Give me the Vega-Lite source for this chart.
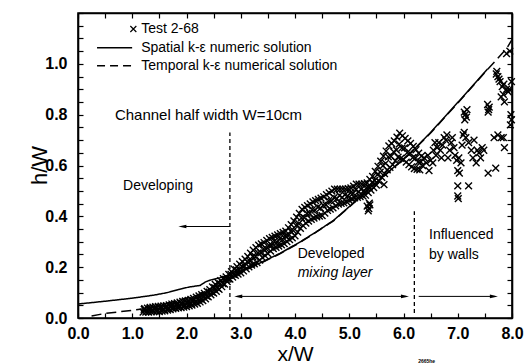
{
"$schema": "https://vega.github.io/schema/vega-lite/v6.json",
"width": 434,
"height": 305,
"autosize": {"type": "none"},
"padding": {"left": 78, "top": 13, "right": 17, "bottom": 46},
"background": "white",
"config": {
  "view": {"stroke": "black", "strokeWidth": 1.6},
  "font": "Liberation Sans",
  "axis": {"grid": false, "domain": true, "domainColor": "black", "domainWidth": 1.6, "ticks": true, "tickColor": "black", "tickWidth": 1.2, "tickSize": -5, "labelOverlap": false, "labelFlush": false, "labelColor": "black", "titleColor": "black"}
},
"datasets": {
  "test": [
{"x":1.20,"h":0.023},{"x":1.22,"h":0.034},{"x":1.23,"h":0.037},
{"x":1.25,"h":0.023},{"x":1.27,"h":0.027},{"x":1.28,"h":0.039},
{"x":1.30,"h":0.023},{"x":1.32,"h":0.036},{"x":1.33,"h":0.042},
{"x":1.35,"h":0.024},{"x":1.37,"h":0.030},{"x":1.38,"h":0.043},
{"x":1.40,"h":0.025},{"x":1.42,"h":0.039},{"x":1.43,"h":0.045},
{"x":1.45,"h":0.025},{"x":1.47,"h":0.032},{"x":1.48,"h":0.046},
{"x":1.50,"h":0.025},{"x":1.52,"h":0.040},{"x":1.53,"h":0.047},
{"x":1.55,"h":0.027},{"x":1.57,"h":0.034},{"x":1.58,"h":0.048},
{"x":1.60,"h":0.028},{"x":1.62,"h":0.043},{"x":1.63,"h":0.049},
{"x":1.65,"h":0.031},{"x":1.67,"h":0.037},{"x":1.68,"h":0.052},
{"x":1.70,"h":0.033},{"x":1.72,"h":0.048},{"x":1.73,"h":0.055},
{"x":1.75,"h":0.036},{"x":1.77,"h":0.042},{"x":1.78,"h":0.057},
{"x":1.80,"h":0.038},{"x":1.82,"h":0.053},{"x":1.83,"h":0.059},
{"x":1.85,"h":0.040},{"x":1.87,"h":0.047},{"x":1.88,"h":0.062},
{"x":1.90,"h":0.041},{"x":1.92,"h":0.057},{"x":1.93,"h":0.065},
{"x":1.95,"h":0.043},{"x":1.97,"h":0.051},{"x":1.98,"h":0.067},
{"x":2.00,"h":0.045},{"x":2.02,"h":0.061},{"x":2.03,"h":0.069},
{"x":2.05,"h":0.048},{"x":2.07,"h":0.056},{"x":2.08,"h":0.073},
{"x":2.10,"h":0.051},{"x":2.12,"h":0.068},{"x":2.13,"h":0.077},
{"x":2.15,"h":0.055},{"x":2.17,"h":0.064},{"x":2.18,"h":0.082},
{"x":2.20,"h":0.058},{"x":2.22,"h":0.076},{"x":2.23,"h":0.087},
{"x":2.25,"h":0.063},{"x":2.27,"h":0.074},{"x":2.28,"h":0.092},
{"x":2.30,"h":0.068},{"x":2.32,"h":0.087},{"x":2.33,"h":0.097},
{"x":2.35,"h":0.075},{"x":2.37,"h":0.086},{"x":2.38,"h":0.105},
{"x":2.40,"h":0.083},{"x":2.42,"h":0.102},{"x":2.43,"h":0.112},
{"x":2.45,"h":0.091},{"x":2.47,"h":0.102},{"x":2.48,"h":0.122},
{"x":2.50,"h":0.098},{"x":2.52,"h":0.119},{"x":2.53,"h":0.132},
{"x":2.55,"h":0.105},{"x":2.57,"h":0.118},{"x":2.58,"h":0.139},
{"x":2.60,"h":0.113},{"x":2.62,"h":0.134},{"x":2.63,"h":0.147},
{"x":2.65,"h":0.123},{"x":2.67,"h":0.135},{"x":2.68,"h":0.155},
{"x":2.70,"h":0.133},{"x":2.72,"h":0.152},{"x":2.73,"h":0.162},
{"x":2.75,"h":0.143},{"x":2.77,"h":0.154},{"x":2.78,"h":0.172},
{"x":2.80,"h":0.153},{"x":2.82,"h":0.172},{"x":2.83,"h":0.182},
{"x":2.85,"h":0.161},{"x":2.87,"h":0.172},{"x":2.88,"h":0.192},
{"x":2.90,"h":0.168},{"x":2.92,"h":0.189},{"x":2.93,"h":0.202},
{"x":2.95,"h":0.173},{"x":2.97,"h":0.189},{"x":2.98,"h":0.212},
{"x":3.00,"h":0.178},{"x":3.02,"h":0.204},{"x":3.03,"h":0.222},
{"x":3.05,"h":0.185},{"x":3.07,"h":0.204},{"x":3.08,"h":0.232},
{"x":3.10,"h":0.193},{"x":3.12,"h":0.222},{"x":3.13,"h":0.242},
{"x":3.15,"h":0.201},{"x":3.17,"h":0.224},{"x":3.18,"h":0.255},
{"x":3.20,"h":0.208},{"x":3.22,"h":0.242},{"x":3.23,"h":0.267},
{"x":3.25,"h":0.213},{"x":3.27,"h":0.241},{"x":3.28,"h":0.277},
{"x":3.30,"h":0.218},{"x":3.32,"h":0.256},{"x":3.33,"h":0.287},
{"x":3.35,"h":0.228},{"x":3.37,"h":0.256},{"x":3.38,"h":0.292},
{"x":3.40,"h":0.238},{"x":3.42,"h":0.272},{"x":3.43,"h":0.297},
{"x":3.45,"h":0.245},{"x":3.47,"h":0.271},{"x":3.48,"h":0.305},
{"x":3.50,"h":0.253},{"x":3.52,"h":0.286},{"x":3.53,"h":0.312},
{"x":3.55,"h":0.263},{"x":3.57,"h":0.286},{"x":3.58,"h":0.317},
{"x":3.60,"h":0.273},{"x":3.62,"h":0.302},{"x":3.63,"h":0.322},
{"x":3.65,"h":0.278},{"x":3.67,"h":0.298},{"x":3.68,"h":0.327},
{"x":3.70,"h":0.283},{"x":3.72,"h":0.312},{"x":3.73,"h":0.332},
{"x":3.75,"h":0.288},{"x":3.77,"h":0.308},{"x":3.78,"h":0.337},
{"x":3.80,"h":0.293},{"x":3.82,"h":0.322},{"x":3.83,"h":0.342},
{"x":3.85,"h":0.301},{"x":3.87,"h":0.324},{"x":3.88,"h":0.355},
{"x":3.90,"h":0.308},{"x":3.92,"h":0.342},{"x":3.93,"h":0.367},
{"x":3.95,"h":0.315},{"x":3.97,"h":0.344},{"x":3.98,"h":0.382},
{"x":4.00,"h":0.323},{"x":4.02,"h":0.364},{"x":4.03,"h":0.397},
{"x":4.05,"h":0.338},{"x":4.07,"h":0.371},{"x":4.08,"h":0.412},
{"x":4.10,"h":0.353},{"x":4.12,"h":0.394},{"x":4.13,"h":0.427},
{"x":4.15,"h":0.363},{"x":4.17,"h":0.395},{"x":4.18,"h":0.435},
{"x":4.20,"h":0.373},{"x":4.22,"h":0.412},{"x":4.23,"h":0.442},
{"x":4.25,"h":0.381},{"x":4.27,"h":0.411},{"x":4.28,"h":0.449},
{"x":4.30,"h":0.388},{"x":4.32,"h":0.426},{"x":4.33,"h":0.457},
{"x":4.35,"h":0.393},{"x":4.37,"h":0.424},{"x":4.38,"h":0.462},
{"x":4.40,"h":0.398},{"x":4.42,"h":0.436},{"x":4.43,"h":0.467},
{"x":4.45,"h":0.401},{"x":4.47,"h":0.432},{"x":4.48,"h":0.472},
{"x":4.50,"h":0.403},{"x":4.52,"h":0.444},{"x":4.53,"h":0.477},
{"x":4.55,"h":0.413},{"x":4.57,"h":0.445},{"x":4.58,"h":0.485},
{"x":4.60,"h":0.423},{"x":4.62,"h":0.462},{"x":4.63,"h":0.492},
{"x":4.65,"h":0.428},{"x":4.67,"h":0.460},{"x":4.68,"h":0.499},
{"x":4.70,"h":0.433},{"x":4.72,"h":0.474},{"x":4.73,"h":0.507},
{"x":4.75,"h":0.441},{"x":4.77,"h":0.470},{"x":4.78,"h":0.507},
{"x":4.80,"h":0.448},{"x":4.82,"h":0.482},{"x":4.83,"h":0.507},
{"x":4.85,"h":0.451},{"x":4.87,"h":0.475},{"x":4.88,"h":0.507},
{"x":4.90,"h":0.453},{"x":4.92,"h":0.484},{"x":4.93,"h":0.507},
{"x":4.95,"h":0.458},{"x":4.97,"h":0.480},{"x":4.98,"h":0.509},
{"x":5.00,"h":0.463},{"x":5.02,"h":0.492},{"x":5.03,"h":0.512},
{"x":5.05,"h":0.468},{"x":5.07,"h":0.490},{"x":5.08,"h":0.519},
{"x":5.10,"h":0.473},{"x":5.12,"h":0.504},{"x":5.13,"h":0.527},
{"x":5.15,"h":0.475},{"x":5.17,"h":0.497},{"x":5.18,"h":0.527},
{"x":5.20,"h":0.478},{"x":5.22,"h":0.506},{"x":5.23,"h":0.527},
{"x":5.25,"h":0.481},{"x":5.27,"h":0.501},{"x":5.28,"h":0.529},
{"x":5.30,"h":0.483},{"x":5.32,"h":0.512},{"x":5.33,"h":0.532},
{"x":5.35,"h":0.493},{"x":5.37,"h":0.515},{"x":5.38,"h":0.545},
{"x":5.40,"h":0.503},{"x":5.42,"h":0.534},{"x":5.43,"h":0.557},
{"x":5.45,"h":0.513},{"x":5.47,"h":0.541},{"x":5.48,"h":0.577},
{"x":5.50,"h":0.523},{"x":5.52,"h":0.564},{"x":5.53,"h":0.597},
{"x":5.55,"h":0.538},{"x":5.57,"h":0.574},{"x":5.58,"h":0.617},
{"x":5.60,"h":0.553},{"x":5.62,"h":0.599},{"x":5.63,"h":0.637},
{"x":5.65,"h":0.568},{"x":5.67,"h":0.608},{"x":5.68,"h":0.657},
{"x":5.70,"h":0.583},{"x":5.72,"h":0.634},{"x":5.73,"h":0.677},
{"x":5.75,"h":0.593},{"x":5.77,"h":0.636},{"x":5.78,"h":0.687},
{"x":5.80,"h":0.603},{"x":5.82,"h":0.654},{"x":5.83,"h":0.697},
{"x":5.85,"h":0.618},{"x":5.87,"h":0.661},{"x":5.88,"h":0.712},
{"x":5.90,"h":0.633},{"x":5.92,"h":0.684},{"x":5.93,"h":0.727},
{"x":5.95,"h":0.628},{"x":5.97,"h":0.668},{"x":5.98,"h":0.717},
{"x":6.00,"h":0.623},{"x":6.02,"h":0.669},{"x":6.03,"h":0.707},
{"x":6.05,"h":0.613},{"x":6.07,"h":0.651},{"x":6.08,"h":0.697},
{"x":6.10,"h":0.603},{"x":6.12,"h":0.649},{"x":6.13,"h":0.687},
{"x":6.15,"h":0.595},{"x":6.17,"h":0.631},{"x":6.18,"h":0.675},
{"x":6.20,"h":0.588},{"x":6.22,"h":0.629},{"x":6.23,"h":0.662},
{"x":6.25,"h":0.585},{"x":6.27,"h":0.613},{"x":6.28,"h":0.649},
{"x":6.30,"h":0.583},{"x":6.32,"h":0.614},{"x":6.33,"h":0.637},
{"x":5.33,"h":0.440},{"x":5.36,"h":0.430},{"x":5.38,"h":0.445},{"x":5.35,"h":0.422},{"x":5.37,"h":0.452},
{"x":5.64,"h":0.525},
{"x":6.35,"h":0.60},{"x":6.38,"h":0.63},{"x":6.42,"h":0.61},{"x":6.45,"h":0.64},{"x":6.47,"h":0.58},
{"x":6.50,"h":0.62},{"x":6.54,"h":0.61},{"x":6.55,"h":0.66},{"x":6.58,"h":0.69},{"x":6.60,"h":0.64},
{"x":6.62,"h":0.67},{"x":6.65,"h":0.69},{"x":6.68,"h":0.66},{"x":6.70,"h":0.63},{"x":6.72,"h":0.68},
{"x":6.75,"h":0.71},{"x":6.78,"h":0.70},{"x":6.80,"h":0.72},{"x":6.82,"h":0.63},{"x":6.85,"h":0.66},
{"x":6.88,"h":0.69},{"x":6.90,"h":0.71},{"x":6.93,"h":0.67},{"x":6.95,"h":0.64},{"x":6.98,"h":0.62},
{"x":7.00,"h":0.58},{"x":7.02,"h":0.63},{"x":7.03,"h":0.57},{"x":7.06,"h":0.61},{"x":7.00,"h":0.52},
{"x":7.20,"h":0.52},{"x":7.00,"h":0.48},{"x":7.01,"h":0.47},{"x":7.08,"h":0.68},{"x":7.10,"h":0.72},
{"x":7.12,"h":0.73},{"x":7.15,"h":0.71},{"x":7.14,"h":0.80},{"x":7.12,"h":0.81},{"x":7.16,"h":0.79},
{"x":7.13,"h":0.78},{"x":7.17,"h":0.82},{"x":7.20,"h":0.69},{"x":7.25,"h":0.66},{"x":7.28,"h":0.63},
{"x":7.30,"h":0.70},{"x":7.34,"h":0.61},{"x":7.36,"h":0.66},{"x":7.39,"h":0.65},{"x":7.42,"h":0.63},
{"x":7.45,"h":0.67},{"x":7.48,"h":0.66},{"x":7.56,"h":0.57},{"x":7.70,"h":0.59},{"x":7.55,"h":0.84},
{"x":7.57,"h":0.82},{"x":7.58,"h":0.83},{"x":7.56,"h":0.81},{"x":7.67,"h":0.71},{"x":7.74,"h":0.72},
{"x":7.80,"h":0.71},{"x":7.84,"h":0.71},{"x":7.86,"h":0.67},{"x":7.71,"h":0.96},{"x":7.74,"h":0.95},
{"x":7.76,"h":0.94},{"x":7.72,"h":0.97},{"x":7.78,"h":0.93},{"x":7.80,"h":0.87},{"x":7.84,"h":0.88},
{"x":7.86,"h":0.85},{"x":7.90,"h":0.90},{"x":7.93,"h":0.89},{"x":7.95,"h":0.90},{"x":7.99,"h":0.93},
{"x":7.90,"h":1.04},{"x":7.96,"h":1.05},{"x":7.98,"h":0.80},{"x":7.99,"h":0.78},{"x":7.97,"h":0.76},
{"x":7.85,"h":0.92},{"x":7.82,"h":0.91}
  ],
  "curves": [
{"x":0.00,"h":0.055,"series":"Spatial"},{"x":0.50,"h":0.066,"series":"Spatial"},{"x":1.00,"h":0.078,"series":"Spatial"},
{"x":1.40,"h":0.090,"series":"Spatial"},{"x":1.65,"h":0.100,"series":"Spatial"},{"x":1.85,"h":0.112,"series":"Spatial"},
{"x":2.05,"h":0.122,"series":"Spatial"},{"x":2.25,"h":0.128,"series":"Spatial"},{"x":2.35,"h":0.142,"series":"Spatial"},
{"x":2.45,"h":0.150,"series":"Spatial"},{"x":2.60,"h":0.157,"series":"Spatial"},{"x":2.80,"h":0.170,"series":"Spatial"},
{"x":3.00,"h":0.185,"series":"Spatial"},{"x":3.36,"h":0.217,"series":"Spatial"},{"x":3.73,"h":0.255,"series":"Spatial"},
{"x":4.10,"h":0.300,"series":"Spatial"},{"x":4.40,"h":0.340,"series":"Spatial"},{"x":4.71,"h":0.384,"series":"Spatial"},
{"x":5.00,"h":0.438,"series":"Spatial"},{"x":5.30,"h":0.496,"series":"Spatial"},{"x":5.64,"h":0.560,"series":"Spatial"},
{"x":6.14,"h":0.652,"series":"Spatial"},{"x":6.50,"h":0.730,"series":"Spatial"},{"x":7.03,"h":0.855,"series":"Spatial"},
{"x":7.55,"h":0.980,"series":"Spatial"},
{"x":0.25,"h":0.008,"series":"Temporal"},{"x":0.50,"h":0.018,"series":"Temporal"},{"x":1.00,"h":0.030,"series":"Temporal"},
{"x":1.35,"h":0.040,"series":"Temporal"},{"x":1.80,"h":0.068,"series":"Temporal"},{"x":2.20,"h":0.090,"series":"Temporal"},
{"x":2.50,"h":0.122,"series":"Temporal"},{"x":2.80,"h":0.160,"series":"Temporal"},{"x":3.00,"h":0.180,"series":"Temporal"},
{"x":3.36,"h":0.215,"series":"Temporal"},{"x":3.73,"h":0.253,"series":"Temporal"},{"x":4.10,"h":0.298,"series":"Temporal"},
{"x":4.71,"h":0.382,"series":"Temporal"},{"x":5.64,"h":0.558,"series":"Temporal"},{"x":6.14,"h":0.650,"series":"Temporal"},
{"x":6.50,"h":0.728,"series":"Temporal"},{"x":7.03,"h":0.853,"series":"Temporal"},{"x":7.55,"h":0.978,"series":"Temporal"},
{"x":7.90,"h":1.060,"series":"Temporal"},{"x":8.00,"h":1.095,"series":"Temporal"}
  ],
  "one": [{}]
},
"resolve": {"axis": {"x": "independent", "y": "independent"}},
"layer": [
  {
    "data": {"name": "test"},
    "mark": {"type": "point", "shape": "M-1,-1L1,1M-1,1L1,-1", "filled": false, "stroke": "black", "strokeWidth": 1.4, "size": 46, "opacity": 1},
    "encoding": {
      "x": {"field": "x", "type": "quantitative", "scale": {"domain": [0, 8], "nice": false, "zero": false},
        "axis": {"orient": "bottom", "values": [0,0.5,1,1.5,2,2.5,3,3.5,4,4.5,5,5.5,6,6.5,7,7.5,8],
          "domain": true, "domainColor": "black", "domainWidth": 1.6,
          "ticks": true, "tickColor": "black", "tickWidth": 1.2, "tickSize": -5,
          "labelExpr": "round(datum.value*10) % 10 == 0 ? format(datum.value, '.1f') : ''",
          "labelFontSize": 16, "labelFontWeight": "bold", "labelPadding": 12,
          "title": "x/W", "titleFontSize": 21, "titleFontWeight": "normal", "titleY": 25}},
      "y": {"field": "h", "type": "quantitative", "scale": {"domain": [0, 1.2], "nice": false, "zero": false},
        "axis": {"orient": "left", "values": [0,0.05,0.1,0.15,0.2,0.25,0.3,0.35,0.4,0.45,0.5,0.55,0.6,0.65,0.7,0.75,0.8,0.85,0.9,0.95,1,1.05,1.1,1.15,1.2],
          "domain": true, "domainColor": "black", "domainWidth": 1.6,
          "ticks": true, "tickColor": "black", "tickWidth": 1.2, "tickSize": -5,
          "labelExpr": "(round(datum.value*100) % 20 == 0 && datum.value < 1.1) ? format(datum.value, '.1f') : ''",
          "labelFontSize": 16, "labelFontWeight": "bold", "labelPadding": 16,
          "title": "h/W", "titleFontSize": 22, "titleFontWeight": "normal", "titleX": -27, "titleY": 152}}
    }
  },
  {
    "data": {"name": "curves"},
    "mark": {"type": "line", "stroke": "black", "strokeWidth": 1.5},
    "encoding": {
      "x": {"field": "x", "type": "quantitative",
        "axis": {"orient": "top", "values": [0,0.5,1,1.5,2,2.5,3,3.5,4,4.5,5,5.5,6,6.5,7,7.5,8], "labels": false, "title": null,
          "domain": true, "domainColor": "black", "domainWidth": 1.6,
          "ticks": true, "tickColor": "black", "tickWidth": 1.2, "tickSize": -5}},
      "y": {"field": "h", "type": "quantitative",
        "axis": {"orient": "right", "values": [0,0.05,0.1,0.15,0.2,0.25,0.3,0.35,0.4,0.45,0.5,0.55,0.6,0.65,0.7,0.75,0.8,0.85,0.9,0.95,1,1.05,1.1,1.15,1.2], "labels": false, "title": null,
          "domain": true, "domainColor": "black", "domainWidth": 1.6,
          "ticks": true, "tickColor": "black", "tickWidth": 1.2, "tickSize": -5}},
      "strokeDash": {"field": "series", "type": "nominal", "scale": {"domain": ["Spatial", "Temporal"], "range": [[1, 0], [10, 5]]}, "legend": null}
    }
  },
  {
    "data": {"name": "one"},
    "mark": {"type": "rule", "stroke": "black", "strokeWidth": 1.3, "strokeDash": [4, 3]},
    "encoding": {"x": {"datum": 2.8, "type": "quantitative", "axis": null}, "y": {"datum": 0, "type": "quantitative", "axis": null}, "y2": {"datum": 0.73}}
  },
  {
    "data": {"name": "one"},
    "mark": {"type": "rule", "stroke": "black", "strokeWidth": 1.3, "strokeDash": [4, 3]},
    "encoding": {"x": {"datum": 6.2, "type": "quantitative", "axis": null}, "y": {"datum": 0.02, "type": "quantitative", "axis": null}, "y2": {"datum": 0.42}}
  },
  {
    "data": {"name": "one"},
    "mark": {"type": "rule", "stroke": "black", "strokeWidth": 1},
    "encoding": {"x": {"datum": 1.9, "type": "quantitative", "axis": null}, "x2": {"datum": 2.8}, "y": {"datum": 0.36, "type": "quantitative", "axis": null}}
  },
  {
    "data": {"name": "one"},
    "mark": {"type": "rule", "stroke": "black", "strokeWidth": 1},
    "encoding": {"x": {"datum": 2.93, "type": "quantitative", "axis": null}, "x2": {"datum": 6.05}, "y": {"datum": 0.085, "type": "quantitative", "axis": null}}
  },
  {
    "data": {"name": "one"},
    "mark": {"type": "rule", "stroke": "black", "strokeWidth": 1},
    "encoding": {"x": {"datum": 6.28, "type": "quantitative", "axis": null}, "x2": {"datum": 7.69}, "y": {"datum": 0.085, "type": "quantitative", "axis": null}}
  },
  {
    "data": {"name": "one"},
    "mark": {"type": "point", "shape": "M-1,0L1,-0.45L1,0.45Z", "filled": true, "fill": "black", "strokeWidth": 0, "size": 64, "opacity": 1},
    "encoding": {"x": {"datum": 1.924, "type": "quantitative", "axis": null}, "y": {"datum": 0.36, "type": "quantitative", "axis": null}}
  },
  {
    "data": {"name": "one"},
    "mark": {"type": "point", "shape": "M-1,0L1,-0.45L1,0.45Z", "filled": true, "fill": "black", "strokeWidth": 0, "size": 64, "opacity": 1},
    "encoding": {"x": {"datum": 2.954, "type": "quantitative", "axis": null}, "y": {"datum": 0.085, "type": "quantitative", "axis": null}}
  },
  {
    "data": {"name": "one"},
    "mark": {"type": "point", "shape": "M1,0L-1,-0.45L-1,0.45Z", "filled": true, "fill": "black", "strokeWidth": 0, "size": 64, "opacity": 1},
    "encoding": {"x": {"datum": 6.026, "type": "quantitative", "axis": null}, "y": {"datum": 0.085, "type": "quantitative", "axis": null}}
  },
  {
    "data": {"name": "one"},
    "mark": {"type": "point", "shape": "M1,0L-1,-0.45L-1,0.45Z", "filled": true, "fill": "black", "strokeWidth": 0, "size": 64, "opacity": 1},
    "encoding": {"x": {"datum": 7.666, "type": "quantitative", "axis": null}, "y": {"datum": 0.085, "type": "quantitative", "axis": null}}
  },
  {
    "data": {"name": "one"},
    "mark": {"type": "text", "text": "Channel half width W=10cm", "align": "left", "baseline": "middle", "fontSize": 15, "color": "black"},
    "encoding": {"x": {"datum": 0.68, "type": "quantitative", "axis": null}, "y": {"datum": 0.80, "type": "quantitative", "axis": null}}
  },
  {
    "data": {"name": "one"},
    "mark": {"type": "text", "text": "Developing", "align": "left", "baseline": "middle", "fontSize": 14, "color": "black"},
    "encoding": {"x": {"datum": 0.83, "type": "quantitative", "axis": null}, "y": {"datum": 0.518, "type": "quantitative", "axis": null}}
  },
  {
    "data": {"name": "one"},
    "mark": {"type": "text", "text": "Developed", "align": "left", "baseline": "middle", "fontSize": 14, "color": "black"},
    "encoding": {"x": {"datum": 4.05, "type": "quantitative", "axis": null}, "y": {"datum": 0.252, "type": "quantitative", "axis": null}}
  },
  {
    "data": {"name": "one"},
    "mark": {"type": "text", "text": "mixing layer", "align": "left", "baseline": "middle", "fontSize": 14, "fontStyle": "italic", "color": "black"},
    "encoding": {"x": {"datum": 4.05, "type": "quantitative", "axis": null}, "y": {"datum": 0.176, "type": "quantitative", "axis": null}}
  },
  {
    "data": {"name": "one"},
    "mark": {"type": "text", "text": "Influenced", "align": "left", "baseline": "middle", "fontSize": 14, "color": "black"},
    "encoding": {"x": {"datum": 6.47, "type": "quantitative", "axis": null}, "y": {"datum": 0.325, "type": "quantitative", "axis": null}}
  },
  {
    "data": {"name": "one"},
    "mark": {"type": "text", "text": "by walls", "align": "left", "baseline": "middle", "fontSize": 14, "color": "black"},
    "encoding": {"x": {"datum": 6.47, "type": "quantitative", "axis": null}, "y": {"datum": 0.247, "type": "quantitative", "axis": null}}
  },
  {
    "data": {"name": "one"},
    "mark": {"type": "point", "shape": "M-1,-1L1,1M-1,1L1,-1", "filled": false, "stroke": "black", "strokeWidth": 1.2, "size": 36, "opacity": 1},
    "encoding": {"x": {"datum": 1.02, "type": "quantitative", "axis": null}, "y": {"datum": 1.137, "type": "quantitative", "axis": null}}
  },
  {
    "data": {"name": "one"},
    "mark": {"type": "rule", "stroke": "black", "strokeWidth": 1.5},
    "encoding": {"x": {"datum": 0.351, "type": "quantitative", "axis": null}, "x2": {"datum": 0.998}, "y": {"datum": 1.063, "type": "quantitative", "axis": null}}
  },
  {
    "data": {"name": "one"},
    "mark": {"type": "rule", "stroke": "black", "strokeWidth": 1.5, "strokeDash": [8, 5]},
    "encoding": {"x": {"datum": 0.351, "type": "quantitative", "axis": null}, "x2": {"datum": 0.998}, "y": {"datum": 0.992, "type": "quantitative", "axis": null}}
  },
  {
    "data": {"name": "one"},
    "mark": {"type": "text", "text": "Test 2-68", "align": "left", "baseline": "middle", "fontSize": 14, "color": "black"},
    "encoding": {"x": {"datum": 1.165, "type": "quantitative", "axis": null}, "y": {"datum": 1.137, "type": "quantitative", "axis": null}}
  },
  {
    "data": {"name": "one"},
    "mark": {"type": "text", "text": "Spatial k-ε numeric solution", "align": "left", "baseline": "middle", "fontSize": 14, "color": "black"},
    "encoding": {"x": {"datum": 1.165, "type": "quantitative", "axis": null}, "y": {"datum": 1.063, "type": "quantitative", "axis": null}}
  },
  {
    "data": {"name": "one"},
    "mark": {"type": "text", "text": "Temporal k-ε numerical solution", "align": "left", "baseline": "middle", "fontSize": 14, "color": "black"},
    "encoding": {"x": {"datum": 1.165, "type": "quantitative", "axis": null}, "y": {"datum": 0.992, "type": "quantitative", "axis": null}}
  },
  {
    "data": {"name": "one"},
    "mark": {"type": "text", "text": "2665he", "align": "left", "baseline": "middle", "fontSize": 5, "fontWeight": "bold", "color": "black"},
    "encoding": {"x": {"datum": 6.27, "type": "quantitative", "axis": null}, "y": {"datum": -0.17, "type": "quantitative", "axis": null}}
  }
]
}
